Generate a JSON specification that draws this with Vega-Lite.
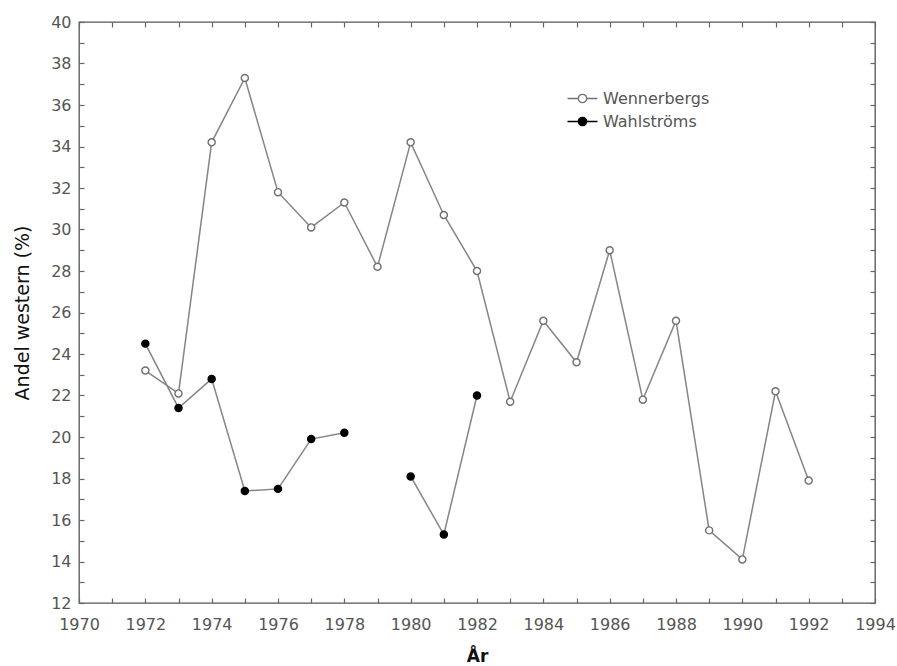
{
  "$schema": "https://vega.github.io/schema/vega-lite/v6.json",
  "width": 796,
  "height": 581,
  "autosize": "none",
  "padding": {"left": 79, "top": 22, "right": 22, "bottom": 63},
  "background": "#ffffff",
  "config": {
    "font": "DejaVu Sans",
    "view": {"stroke": "#555555", "strokeWidth": 1.3},
    "mark": {"invalid": "break-paths-show-domains"},
    "axis": {"domain": false, "grid": false, "tickColor": "#666666", "tickSize": -5, "tickWidth": 1.2, "labelColor": "#555555", "labelFont": "DejaVu Sans", "labelFontSize": 16, "titleColor": "#111111", "titleFont": "DejaVu Sans"},
    "legend": {"orient": "none", "legendX": 493, "legendY": 66, "padding": 0, "title": null, "labelFont": "DejaVu Sans", "labelFontSize": 16, "labelColor": "#555555", "labelOffset": 10, "rowPadding": 4, "symbolSize": 350, "symbolStrokeWidth": 1.3, "symbolType": "M-1.6,0 L-0.45,0 M0.45,0 L1.6,0 M-0.45,0 A0.45,0.45 0 1,1 0.45,0 A0.45,0.45 0 1,1 -0.45,0 Z"}
  },
  "data": {
    "values": [
      {"year": 1972, "series": "Wennerbergs", "value": 23.2},
      {"year": 1973, "series": "Wennerbergs", "value": 22.1},
      {"year": 1974, "series": "Wennerbergs", "value": 34.2},
      {"year": 1975, "series": "Wennerbergs", "value": 37.3},
      {"year": 1976, "series": "Wennerbergs", "value": 31.8},
      {"year": 1977, "series": "Wennerbergs", "value": 30.1},
      {"year": 1978, "series": "Wennerbergs", "value": 31.3},
      {"year": 1979, "series": "Wennerbergs", "value": 28.2},
      {"year": 1980, "series": "Wennerbergs", "value": 34.2},
      {"year": 1981, "series": "Wennerbergs", "value": 30.7},
      {"year": 1982, "series": "Wennerbergs", "value": 28.0},
      {"year": 1983, "series": "Wennerbergs", "value": 21.7},
      {"year": 1984, "series": "Wennerbergs", "value": 25.6},
      {"year": 1985, "series": "Wennerbergs", "value": 23.6},
      {"year": 1986, "series": "Wennerbergs", "value": 29.0},
      {"year": 1987, "series": "Wennerbergs", "value": 21.8},
      {"year": 1988, "series": "Wennerbergs", "value": 25.6},
      {"year": 1989, "series": "Wennerbergs", "value": 15.5},
      {"year": 1990, "series": "Wennerbergs", "value": 14.1},
      {"year": 1991, "series": "Wennerbergs", "value": 22.2},
      {"year": 1992, "series": "Wennerbergs", "value": 17.9},
      {"year": 1972, "series": "Wahlströms", "value": 24.5},
      {"year": 1973, "series": "Wahlströms", "value": 21.4},
      {"year": 1974, "series": "Wahlströms", "value": 22.8},
      {"year": 1975, "series": "Wahlströms", "value": 17.4},
      {"year": 1976, "series": "Wahlströms", "value": 17.5},
      {"year": 1977, "series": "Wahlströms", "value": 19.9},
      {"year": 1978, "series": "Wahlströms", "value": 20.2},
      {"year": 1979, "series": "Wahlströms", "value": null},
      {"year": 1980, "series": "Wahlströms", "value": 18.1},
      {"year": 1981, "series": "Wahlströms", "value": 15.3},
      {"year": 1982, "series": "Wahlströms", "value": 22.0}
    ]
  },
  "layer": [
    {
      "mark": {"type": "line", "color": "#858585", "strokeWidth": 1.5},
      "encoding": {
        "x": {"field": "year", "type": "quantitative", "scale": {"domain": [1970, 1994], "nice": false, "zero": false},
              "axis": {"orient": "bottom", "values": [1970,1971,1972,1973,1974,1975,1976,1977,1978,1979,1980,1981,1982,1983,1984,1985,1986,1987,1988,1989,1990,1991,1992,1993,1994], "format": "d", "labelExpr": "datum.value % 2 == 0 ? datum.label : ''", "labelPadding": 18, "labelFlush": false, "labelOverlap": false, "title": "År", "titleFontSize": 17, "titleFontWeight": "bold", "titlePadding": 16}},
        "y": {"field": "value", "type": "quantitative", "scale": {"domain": [12, 40], "nice": false, "zero": false},
              "axis": {"orient": "left", "values": [12,13,14,15,16,17,18,19,20,21,22,23,24,25,26,27,28,29,30,31,32,33,34,35,36,37,38,39,40], "format": "d", "labelExpr": "datum.value % 2 == 0 ? datum.label : ''", "labelPadding": 13, "labelFlush": false, "labelOverlap": false, "title": "Andel western (%)", "titleFontSize": 19, "titleFontWeight": "normal", "titlePadding": 18}},
        "detail": {"field": "series", "type": "nominal"}
      }
    },
    {
      "mark": {"type": "point", "filled": false, "opacity": 1, "size": 50, "strokeWidth": 1.4},
      "encoding": {
        "x": {"field": "year", "type": "quantitative",
              "axis": {"orient": "top", "values": [1970,1971,1972,1973,1974,1975,1976,1977,1978,1979,1980,1981,1982,1983,1984,1985,1986,1987,1988,1989,1990,1991,1992,1993,1994], "labels": false, "title": null}},
        "y": {"field": "value", "type": "quantitative",
              "axis": {"orient": "right", "values": [12,13,14,15,16,17,18,19,20,21,22,23,24,25,26,27,28,29,30,31,32,33,34,35,36,37,38,39,40], "labels": false, "title": null}},
        "fill": {"field": "series", "type": "nominal", "scale": {"domain": ["Wennerbergs", "Wahlströms"], "range": ["#ffffff", "#000000"]}},
        "stroke": {"field": "series", "type": "nominal", "scale": {"domain": ["Wennerbergs", "Wahlströms"], "range": ["#707070", "#000000"]}}
      }
    }
  ],
  "resolve": {"axis": {"x": "independent", "y": "independent"}}
}
